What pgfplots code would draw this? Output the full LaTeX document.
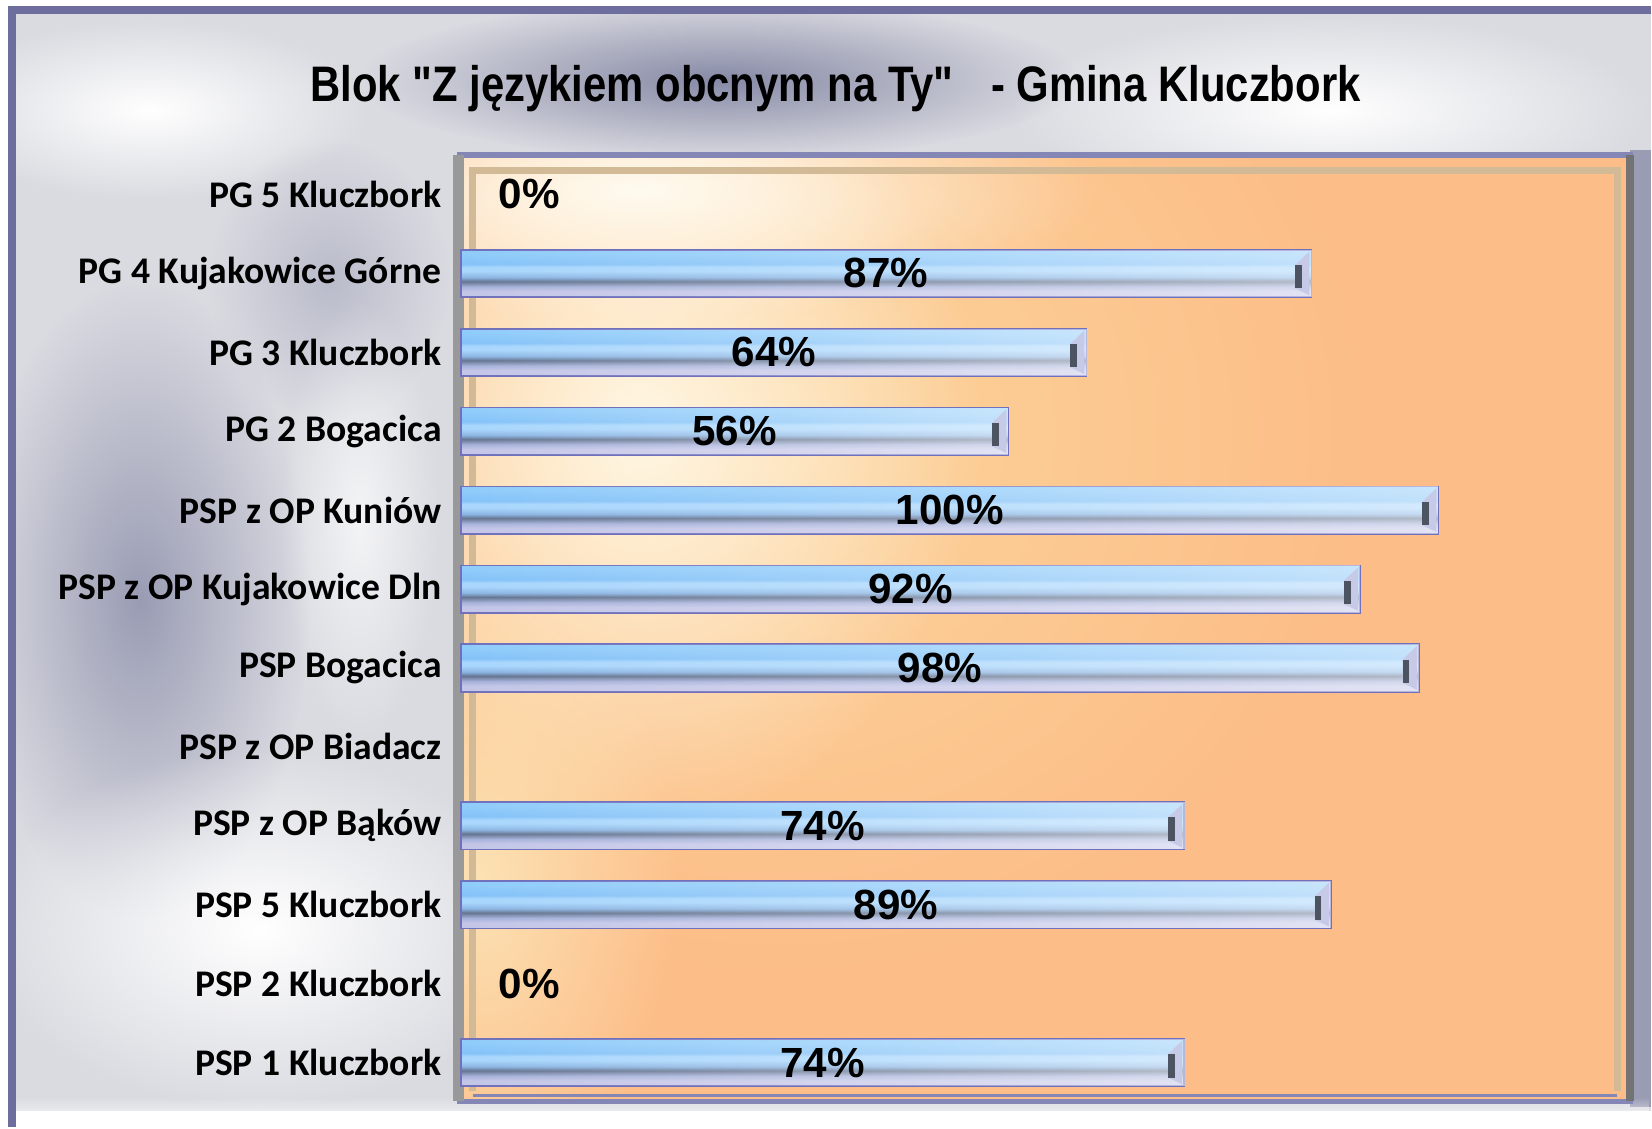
\documentclass[border=0pt]{standalone}
\usepackage{fontspec}
\usepackage{pgfplots}
\pgfplotsset{compat=1.18}
\usepackage{pgfplotstable}
\usepackage{graphicx}
\usetikzlibrary{fadings}
\newfontfamily\calib{Carlito}
\newfontfamily\arial{Liberation Sans}

\definecolor{bA}{HTML}{C4C6E8}
\definecolor{bB}{HTML}{A6B2DA}
\definecolor{bC}{HTML}{647490}
\definecolor{bD}{HTML}{8CB6E4}
\definecolor{bE}{HTML}{A8D6FC}
\definecolor{bF}{HTML}{84C2F8}
\definecolor{bG}{HTML}{90CCFA}
\definecolor{barline}{HTML}{7070BC}
\definecolor{bevdark}{HTML}{4C5462}
\definecolor{bevcap}{HTML}{C6CAE6}
\definecolor{metal}{HTML}{DADBE1}
\definecolor{metaldark}{HTML}{878AA6}
\definecolor{metalmid}{HTML}{9A9CB4}
\definecolor{framebl}{HTML}{6E6E9E}
\definecolor{wallor}{HTML}{FCBD88}
\definecolor{wallyel}{HTML}{FDD59C}
\definecolor{wallcream}{HTML}{FFF7E4}
\definecolor{walltop}{HTML}{FFFBF0}
\definecolor{wallpeach}{HTML}{FDE2B4}
\definecolor{wallline}{HTML}{D2BA96}
\definecolor{plotframe}{HTML}{8486B6}

\pgfdeclareverticalshading{barshade}{100bp}{color(0bp)=(bA); color(25bp)=(bA); color(31bp)=(bA); color(36bp)=(bB); color(41.5bp)=(bC); color(46bp)=(bD); color(52.5bp)=(bE); color(56.5bp)=(bE); color(60bp)=(bF); color(71bp)=(bG); color(75bp)=(bG); color(100bp)=(bG)}
\tikzfading[name=glow, inner color=transparent!0, outer color=transparent!100]

\pgfdeclareplotmark{bevel}{%
  \pgfsetfillcolor{bevcap}%
  \pgfpathmoveto{\pgfpoint{-4.6pt}{2.4pt}}%
  \pgfpathlineto{\pgfpoint{-0.6pt}{6.2pt}}%
  \pgfpathlineto{\pgfpoint{-0.6pt}{-6.2pt}}%
  \pgfpathlineto{\pgfpoint{-4.6pt}{-4.3pt}}%
  \pgfpathclose\pgfusepathqfill
  \pgfsetfillcolor{bevdark}%
  \pgfpathrectangle{\pgfpoint{-4.6pt}{-4.3pt}}{\pgfpoint{1.9pt}{6.7pt}}%
  \pgfusepathqfill
}

\newcommand\labfont{\arial\bfseries\fontsize{12}{14}\selectfont}

\newcommand\onebar[2]{%
  \addplot[xbar, bar shift=0pt, bar width=0.6, draw=barline, line width=0.5pt, shade, shading=barshade] coordinates {(#1,#2)};
  \addplot[xbar, bar shift=0pt, bar width=0.6, draw=none, fill=white, fill opacity=0.5, path fading=west] coordinates {(#1,#2)};
  \addplot[only marks, mark=bevel] coordinates {(#1,#2)};
}

\pgfplotstableread{
y v
1 87
2 64
3 56
4 100
5 92
6 98
8 74
9 89
11 74
}\bars

\begin{document}
\begin{tikzpicture}
\useasboundingbox (0,0) rectangle (16.52,11.28);
\begin{scope}[x=0.01cm,y=-0.01cm,shift={(0cm,11.28cm)}]
  \fill[white] (0,0) rectangle (1652,1128);
  % metallic frame
  \begin{scope}
  \clip (12,10) rectangle (1652,1112);
  \fill[metal] (12,10) rectangle (1652,1112);
  \fill[metaldark, path fading=glow] (720,80) ellipse (360 and 80);
  \fill[white, path fading=glow] (1330,110) ellipse (320 and 95);
  \fill[white, path fading=glow] (150,110) ellipse (220 and 90);
  \fill[metalmid, path fading=glow] (140,600) ellipse (170 and 320);
  \fill[metalmid, path fading=glow, opacity=0.5] (330,280) ellipse (120 and 140);
  \fill[white, path fading=glow] (260,930) ellipse (280 and 180);
  \fill[white, path fading=glow, opacity=0.7] (360,520) ellipse (80 and 220);
  \fill[metalmid] (1631,150) rectangle (1652,1108);
  \end{scope}
  \fill[white, path fading=north] (12,1098) rectangle (1652,1128);
  \draw[framebl, line width=2.5] (12,1128) -- (12,10) -- (1652,10);
  % plot wall
  \begin{scope}
  \clip (460,155) rectangle (1631,1102);
  \fill[wallor] (460,155) rectangle (1631,1102);
  \fill[wallyel, path fading=glow] (780,430) ellipse (600 and 560);
  \fill[wallcream, path fading=glow] (640,430) ellipse (340 and 400);
  \fill[walltop, path fading=glow] (640,190) ellipse (460 and 130);
  \fill[wallpeach, path fading=glow] (480,880) ellipse (200 and 330);
  \end{scope}
  \draw[wallline, line width=2] (473,1092) -- (473,171) -- (1618,171) -- (1618,1092);
  \draw[plotframe, line width=1] (473,1096) -- (1618,1096);
  \draw[plotframe, line width=1.5] (460,155) rectangle (1631,1102);
  \draw[black!55, line width=2.5] (1631,155) -- (1631,1102);
  \draw[gray!80, line width=3] (459,155) -- (459,1102);
  % title
  \node[anchor=base west, inner sep=0pt] at (310,102)
    {\resizebox{10.5cm}{\height}{\arial\bfseries\fontsize{14.2}{16}\selectfont Blok "Z językiem obcnym na Ty"\hspace{0.9em}- Gmina Kluczbork}};
\end{scope}
\begin{axis}[
  at={(4.61cm,0.26cm)}, anchor=south west,
  scale only axis, width=11.70cm, height=9.47cm,
  xmin=0, xmax=119.7, ymin=-0.5, ymax=11.5,
  y dir=reverse, clip=false,
  axis line style={draw=none},
  major tick length=0pt,
  xtick=\empty,
  ytick={0,...,11},
  yticklabels={PG 5 Kluczbork, PG 4 Kujakowice Górne, PG 3 Kluczbork, PG 2 Bogacica, PSP z OP Kuniów, PSP z OP Kujakowice Dln, PSP Bogacica, PSP z OP Biadacz, PSP z OP Bąków, PSP 5 Kluczbork, PSP 2 Kluczbork, PSP 1 Kluczbork},
  yticklabel style={font=\calib\bfseries\fontsize{10.7}{12}\selectfont, anchor=east, xshift=-2pt},
]
\onebar{87}{1}
\onebar{64}{2}
\onebar{56}{3}
\onebar{100}{4}
\onebar{92}{5}
\onebar{98}{6}
\onebar{74}{8}
\onebar{89}{9}
\onebar{74}{11}
\addplot[only marks, mark=text, text mark={}, point meta=explicit,
  nodes near coords={\pgfmathprintnumber[assume math mode=true]{\pgfplotspointmeta}\%},
  every node near coord/.style={anchor=center, inner sep=0pt, font=\labfont, text=black}]
  table[x expr=\thisrow{v}/2, y=y, meta=v] {\bars};
\addplot[only marks, mark=text, text mark={},
  nodes near coords={0\%},
  every node near coord/.style={anchor=west, xshift=10.5pt, inner sep=0pt, font=\labfont, text=black}]
  coordinates {(0,0) (0,10)};
\end{axis}
\end{tikzpicture}
\end{document}
